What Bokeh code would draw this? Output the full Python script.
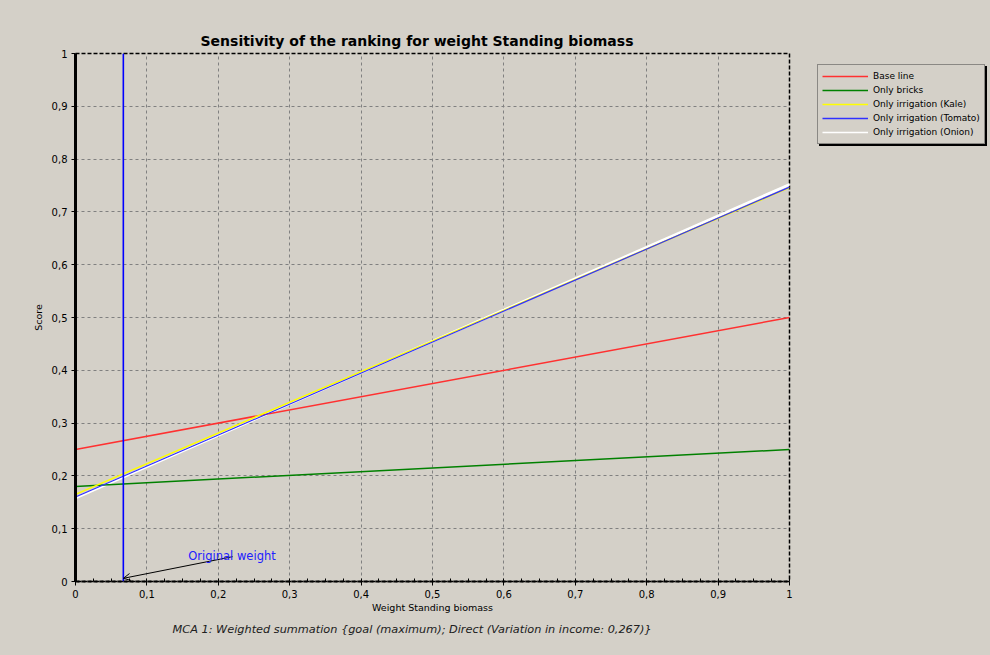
from bokeh.plotting import figure
from bokeh.layouts import row
from bokeh.models import (Range1d, FixedTicker, CustomJSTickFormatter, Legend,
                          LegendItem, Label, Arrow, OpenHead, Title)
from bokeh.embed import file_html
from bokeh.resources import INLINE

# Score of each alternative as the weight of "Standing biomass" runs from 0 to 1
weights = [0.0, 1.0]
base_line = [0.25, 0.50]
only_bricks = [0.18, 0.25]
irrigation_kale = [0.165, 0.746]
irrigation_tomato = [0.160, 0.747]
irrigation_onion = [0.158, 0.752]

original_weight = 0.067
axis_ticks = [0, 0.1, 0.2, 0.3, 0.4, 0.5, 0.6, 0.7, 0.8, 0.9, 1]

series_names = ["Base line", "Only bricks", "Only irrigation (Kale)",
                "Only irrigation (Tomato)", "Only irrigation (Onion)"]
series_values = [base_line, only_bricks, irrigation_kale,
                 irrigation_tomato, irrigation_onion]
series_colors = ["#ff3030", "#008000", "#ffff00", "#3030ff", "#ffffff"]
# onion is drawn first, so the tomato and kale lines sit over it
draw_order = [4, 0, 1, 2, 3]
line_widths = [1.5, 1.5, 1.5, 1.2, 2.6]

BG = "#d4d0c8"
FONT = "DejaVu Sans"

p = figure(width=817, height=655, x_range=Range1d(0, 1), y_range=Range1d(0, 1),
           output_backend="svg", toolbar_location=None,
           min_border_left=75, min_border_right=28, min_border_top=53,
           min_border_bottom=74, background_fill_color=BG, border_fill_color=BG)

p.title.text = "Sensitivity of the ranking for weight Standing biomass"
p.title.align = "left"
p.title.offset = 125
p.title.standoff = 10
p.title.text_font = FONT
p.title.text_font_size = "14px"
p.title.text_font_style = "bold"
p.title.text_color = "black"

p.outline_line_color = "black"
p.outline_line_dash = "4 2"
p.outline_line_width = 1.5

fmt = CustomJSTickFormatter(code="return (Math.round(tick*10)/10).toString().replace('.', ',');")
for ax in (p.xaxis[0], p.yaxis[0]):
    ax.ticker = FixedTicker(ticks=axis_ticks,
                            minor_ticks=[i / 40 for i in range(41)] if ax is p.xaxis[0] else [])
    ax.formatter = fmt
    ax.major_label_text_font = FONT
    ax.major_label_text_font_size = "10px"
    ax.major_label_text_color = "black"
    ax.axis_label_text_font = FONT
    ax.axis_label_text_font_size = "9.5px"
    ax.axis_label_text_font_style = "normal"
    ax.axis_label_text_color = "black"
    ax.major_tick_out = 4
    ax.major_tick_in = 0
    ax.major_tick_line_color = "black"

p.xaxis.axis_label = "Weight Standing biomass"
p.yaxis.axis_label = "Score"
p.xaxis.axis_line_width = 2
p.xaxis.axis_line_dash = "4 2"
p.xaxis.minor_tick_in = 3
p.xaxis.minor_tick_out = 0
p.xaxis.minor_tick_line_color = "black"
p.xaxis.major_label_standoff = 4
p.xaxis.axis_label_standoff = 1
p.yaxis.axis_line_width = 3
p.yaxis.minor_tick_line_color = None
p.yaxis.major_label_standoff = 4

p.grid.grid_line_color = "#808080"
p.grid.grid_line_dash = "3 3"
p.grid.grid_line_width = 1

for i in draw_order:
    p.line(weights, series_values[i], line_color=series_colors[i], line_width=line_widths[i])

# marker for the weight used in the original run
p.line([original_weight, original_weight], [0, 1], line_color="#0000ff", line_width=1.6)
p.add_layout(Arrow(x_start=0.22, y_start=0.047, x_end=original_weight, y_end=0.006,
                   line_color="black", line_width=1,
                   end=OpenHead(size=7, line_color="black", line_width=1)))
p.add_layout(Label(x=0.158, y=0.049, text="Original weight", text_color="#2020ff",
                   text_font=FONT, text_font_size="11.5px", text_baseline="alphabetic"))

caption = Title(text="MCA 1: Weighted summation {goal (maximum); Direct (Variation in income: 0,267)}",
                align="left", offset=97, standoff=10, text_font=FONT,
                text_font_size="11.3px", text_font_style="italic", text_color="#202020")
p.add_layout(caption, "below")

# side panel holding the legend (with a black drop shadow underneath);
# its own copies of the series lie outside its visible range
q = figure(width=173, height=655, x_range=Range1d(5, 6), y_range=Range1d(0, 1),
           output_backend="svg", toolbar_location=None,
           min_border_left=0, min_border_right=0, min_border_top=53, min_border_bottom=74,
           background_fill_color=BG, border_fill_color=BG, outline_line_color=None)
q.axis.visible = False
q.grid.visible = False

swatches = [q.line(weights, v, line_color=c, line_width=1.5)
            for v, c in zip(series_values, series_colors)]
ghosts = [q.line(weights, v, line_alpha=0) for v in series_values]

common = dict(label_text_font=FONT, label_text_font_size="9px",
              glyph_width=46, glyph_height=14, label_height=14, label_standoff=5,
              spacing=0, padding=4, margin=0)
shadow = Legend(items=[LegendItem(label=n, renderers=[g]) for n, g in zip(series_names, ghosts)],
                location=(2, 435), background_fill_color="black", background_fill_alpha=1,
                border_line_color="black", label_text_alpha=0, **common)
legend = Legend(items=[LegendItem(label=n, renderers=[r]) for n, r in zip(series_names, swatches)],
                location=(0, 437), background_fill_color=BG, background_fill_alpha=1,
                border_line_color="#404040", border_line_width=1, label_text_color="black",
                **common)
q.add_layout(shadow, "center")
q.add_layout(legend, "center")

layout = row(p, q, spacing=0, styles={"background-color": BG})
open("out.html", "w").write(file_html(layout, INLINE))
